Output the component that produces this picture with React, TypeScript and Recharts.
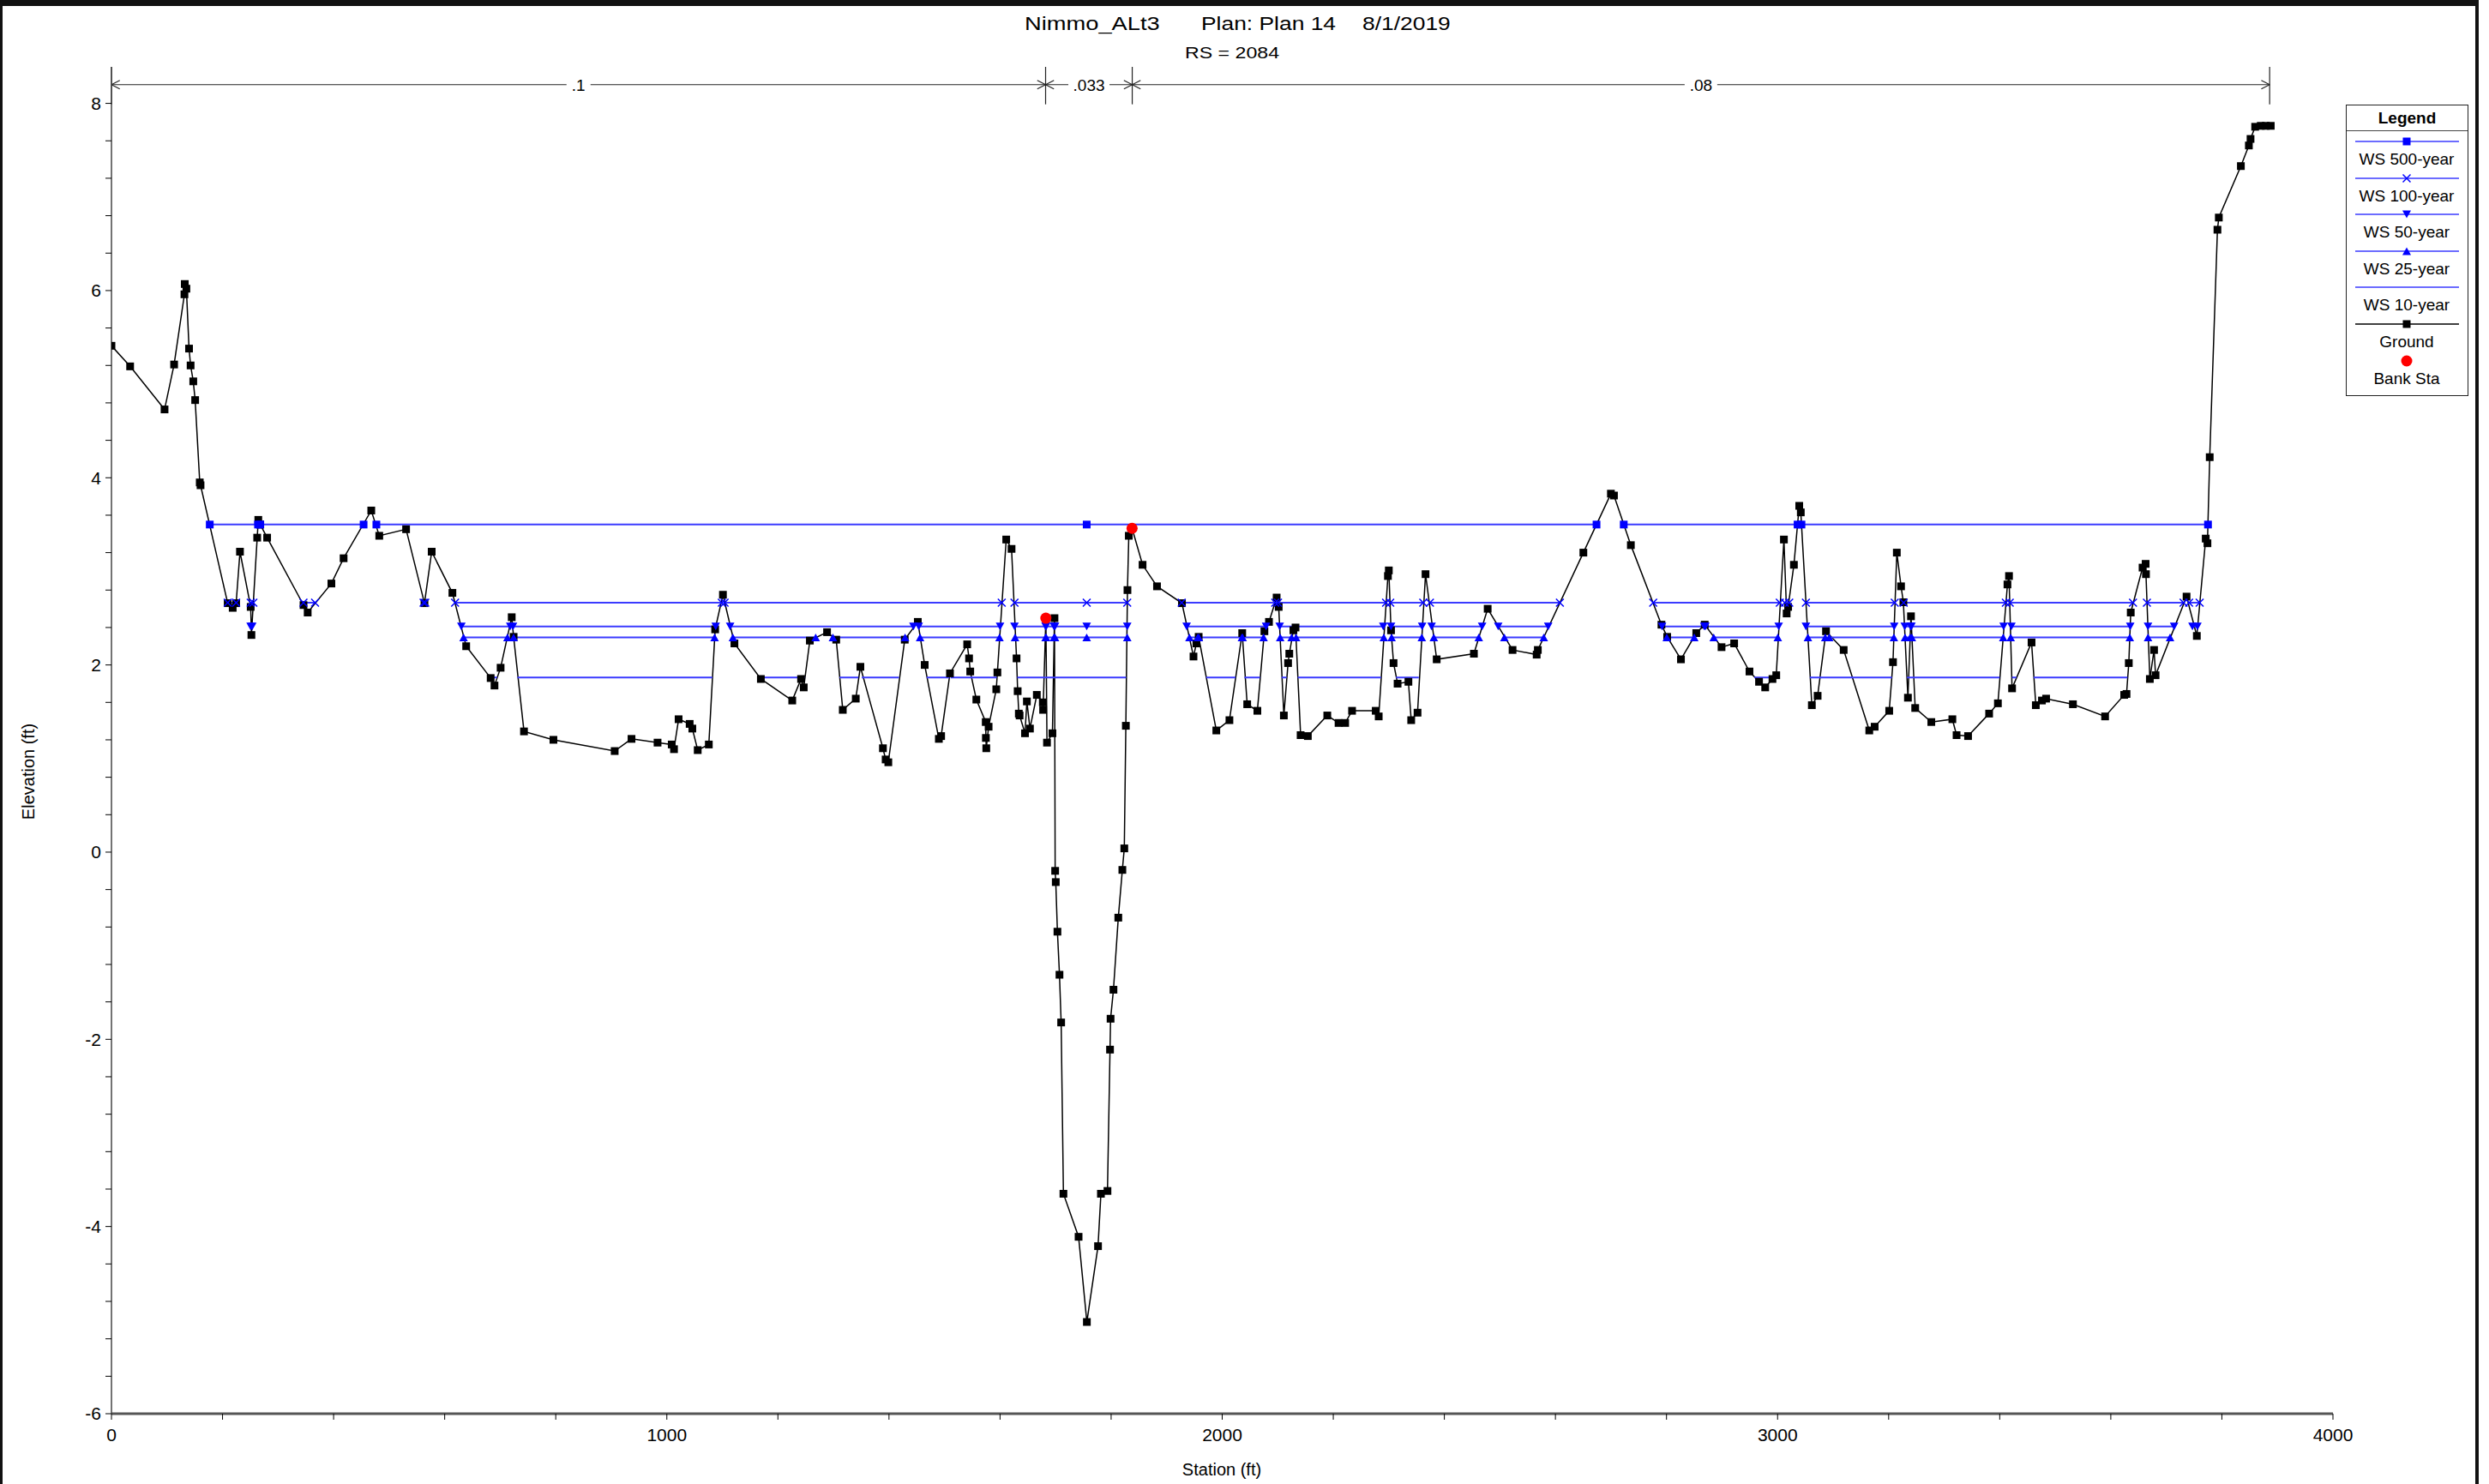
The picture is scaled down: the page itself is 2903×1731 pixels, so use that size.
import React from 'react';
import { ComposedChart, Line, XAxis, YAxis, ReferenceLine } from 'recharts';

// ground profile: [station (ft), elevation (ft)]
const groundPoints: [number, number][] = [
  [0, 5.41], [33.6, 5.19], [95.6, 4.73], [112.8, 5.21], [131.4, 5.96], [132, 6.07], [134.9, 6.02],
  [139.7, 5.38], [142.5, 5.2], [147.3, 5.03], [150.7, 4.83], [159, 3.95], [160.4, 3.92], [209.3, 2.66],
  [218.3, 2.61], [224.5, 2.66], [231.4, 3.21], [250.7, 2.62], [252, 2.32], [262.4, 3.36], [264.4, 3.55],
  [267.9, 3.5], [280.3, 3.36], [345.8, 2.64], [353.3, 2.56], [396, 2.87], [418, 3.14], [467.8, 3.65],
  [482.2, 3.38], [530.5, 3.45], [563.6, 2.66], [576.6, 3.21], [613.9, 2.77], [638.7, 2.2], [682.8, 1.86],
  [689.7, 1.78], [700.7, 1.97], [720.7, 2.51], [724.1, 2.3], [742.8, 1.29], [795.8, 1.2], [906.1, 1.08],
  [936.4, 1.21], [983.3, 1.17], [1008.8, 1.15], [1012.9, 1.1], [1021.2, 1.42], [1041.1, 1.37],
  [1045.9, 1.32], [1055.6, 1.09], [1075.6, 1.15], [1087, 2.38], [1101, 2.75], [1121.7, 2.23],
  [1169.3, 1.85], [1225.8, 1.62], [1241.7, 1.85], [1246.5, 1.76], [1257.5, 2.26], [1288.5, 2.35],
  [1305, 2.27], [1316.8, 1.52], [1340.2, 1.64], [1348.5, 1.98], [1389.1, 1.11], [1394, 0.99],
  [1398.8, 0.96], [1428.4, 2.27], [1451.9, 2.46], [1464.3, 2.0], [1489.8, 1.21], [1493.9, 1.24],
  [1509.8, 1.91], [1540.8, 2.22], [1544.2, 2.07], [1546.3, 1.93], [1557.3, 1.63], [1574.2, 1.39],
  [1574.5, 1.22], [1575.2, 1.11], [1579.4, 1.34], [1593.2, 1.74], [1595.2, 1.92], [1611.1, 3.34],
  [1620.7, 3.24], [1629.7, 2.07], [1631.7, 1.72], [1633.8, 1.48], [1635.2, 1.46], [1644.9, 1.27],
  [1648.3, 1.61], [1653.8, 1.32], [1666.2, 1.68], [1677, 1.6], [1677.5, 1.52], [1682.5, 2.5],
  [1684.5, 1.17], [1694.3, 1.27], [1698, 2.5], [1699.2, -0.2], [1700.3, -0.32], [1703.3, -0.85],
  [1707, -1.31], [1710, -1.82], [1714.1, -3.65], [1741.4, -4.11], [1756.3, -5.02], [1776.4, -4.21],
  [1781.6, -3.65], [1793.4, -3.62], [1798, -2.11], [1799, -1.78], [1804.2, -1.47], [1812.9, -0.7],
  [1820.2, -0.19], [1823.7, 0.04], [1826.5, 1.35], [1829.4, 2.8], [1831.8, 3.38], [1837.7, 3.46],
  [1856.6, 3.07], [1882.6, 2.84], [1927.5, 2.66], [1948.3, 2.09], [1953.5, 2.23], [1957.6, 2.3],
  [1989.4, 1.3], [2013, 1.41], [2036, 2.34], [2045, 1.58], [2063.3, 1.51], [2076, 2.36], [2084.2, 2.46],
  [2098, 2.72], [2101.7, 2.62], [2111, 1.46], [2118.6, 2.02], [2120.8, 2.12], [2128.2, 2.37], [2132, 2.4],
  [2141.2, 1.25], [2154.2, 1.24], [2189.2, 1.46], [2209.5, 1.38], [2221.4, 1.38], [2233.8, 1.51],
  [2276.4, 1.51], [2281.8, 1.45], [2298.4, 2.95], [2300, 3.01], [2304, 2.37], [2308.5, 2.02],
  [2315.8, 1.8], [2335.3, 1.82], [2340.3, 1.41], [2351.7, 1.49], [2366.1, 2.97], [2386.2, 2.06],
  [2453.2, 2.12], [2478, 2.6], [2522.8, 2.16], [2566.2, 2.11], [2568.3, 2.16], [2650.3, 3.2],
  [2699.9, 3.83], [2705.4, 3.81], [2735.8, 3.28], [2790.9, 2.43], [2801.2, 2.3], [2826, 2.06],
  [2853.6, 2.34], [2868.8, 2.43], [2899.1, 2.19], [2921.8, 2.23], [2949.4, 1.93], [2966.6, 1.82],
  [2977.7, 1.76], [2990.8, 1.85], [2997.6, 1.89], [3011.4, 3.34], [3016.3, 2.55], [3019, 2.62],
  [3029.4, 3.07], [3039, 3.7], [3041.8, 3.63], [3061.7, 1.57], [3072.1, 1.67], [3087.2, 2.36],
  [3119, 2.16], [3165.1, 1.3], [3174.8, 1.34], [3201, 1.51], [3207.8, 2.03], [3214.7, 3.2],
  [3222.3, 2.84], [3226.5, 2.67], [3234.7, 1.65], [3240.2, 2.52], [3247.8, 1.54], [3276.8, 1.39],
  [3314.7, 1.42], [3322.3, 1.25], [3343, 1.24], [3380.9, 1.48], [3396.7, 1.59], [3413.9, 2.86],
  [3416.7, 2.95], [3422.2, 1.75], [3457.3, 2.24], [3465, 1.57], [3476, 1.62], [3483.5, 1.64],
  [3531.8, 1.58], [3589.7, 1.45], [3624.1, 1.68], [3628.3, 1.69], [3632.4, 2.02], [3635.9, 2.56],
  [3657.2, 3.04], [3662.7, 3.08], [3663.3, 2.97], [3670.3, 1.85], [3677.9, 2.16], [3680.6, 1.89],
  [3736.4, 2.73], [3754.9, 2.31], [3770.9, 3.35], [3774, 3.3], [3778.1, 4.22], [3792, 6.65],
  [3794.5, 6.78], [3834.2, 7.33], [3848.6, 7.55], [3851.6, 7.62], [3859.9, 7.75], [3870, 7.76],
  [3879, 7.76], [3888, 7.76],
];

const bankStations: [number, number][] = [
  [1682.5, 2.5],
  [1837.7, 3.46],
];

// water surfaces: elevation + wet stretches (stations)
const ws500Elev = 3.5;
const ws500Segments = [[177, 263.9], [267.9, 454], [477, 1756, 2674], [2723, 3036], [3043, 3775]];

const ws100Elev = 2.665;
const ws100Segments = [
  [209.3, 224.5], [250.7, 255.5], [345.8, 366.6], [562, 565], [618.7, 1099], [1104, 1603],
  [1626, 1756, 1829], [1927, 2095.5], [2100.5, 2295], [2302.5, 2362], [2374, 2608], [2776, 3004],
  [3013, 3021], [3051, 3211], [3227, 3411], [3418, 3640], [3665, 3731], [3741, 3760],
];

const ws50Elev = 2.41;
const ws50Segments = [
  [250.5, 253.5], [630, 718], [723, 1088], [1114, 1444], [1453.6, 1600], [1626, 1682], [1683, 1697],
  [1699, 1756, 1829], [1936, 2079], [2103.5, 2290], [2304, 2360], [2377, 2468], [2497, 2587],
  [2792, 2868], [2870, 3002], [3051, 3210], [3229, 3239.5], [3241, 3407], [3421, 3635], [3667, 3714],
  [3747, 3756],
];

const ws25Elev = 2.295;
const ws25Segments = [
  [634, 713], [724.1, 1086], [1119, 1268], [1299, 1429], [1456, 1599], [1627, 1682], [1683, 1697],
  [1699, 1756, 1829], [1941, 1956], [1958, 2035.4], [2036.8, 2074.5], [2104.4, 2125], [2133, 2291],
  [2305, 2359.4], [2381, 2462], [2508, 2579], [2800.5, 2850], [2885, 3000.4], [3054.6, 3085.8],
  [3093, 3209.4], [3229.5, 3238.6], [3241.8, 3406.3], [3419.7, 3634.2], [3667, 3706.7],
];

const ws10Elev = 1.865;
const ws10Segments = [
  [683, 694], [731, 1082], [1165, 1249], [1311, 1345], [1351, 1418], [1468, 1509], [1511, 1594],
  [1631, 1827], [1971, 2024], [2040, 2068], [2107, 2116], [2136, 2286], [2313, 2354], [2958, 2993],
  [3058, 3206], [3233, 3400], [3422, 3430], [3461, 3630],
];

// Manning's n bar
const nBreaks = [0, 1682, 1838, 3886];
const nValues = ['.1', '.033', '.08'];
const nBarElev = 8.2;

const stationTicks = [0, 200, 400, 600, 800, 1000, 1200, 1400, 1600, 1800, 2000, 2200, 2400, 2600, 2800, 3000, 3200, 3400, 3600, 3800, 4000];
const elevTicks = Array.from({ length: 36 }, (_, i) => Math.round((-6 + i * 0.4) * 10) / 10);

const FONT = '"Liberation Sans", Arial, Helvetica, sans-serif';
const BLUE = '#0000ff';
const WS_LINE = '#3b3bff';

type Shape = 'square' | 'cross' | 'down' | 'up' | 'circle' | 'none';

function drawShape(shape: Shape, cx: number, cy: number, color: string, key?: string) {
  switch (shape) {
    case 'square':
      return <rect key={key} x={cx - 4.5} y={cy - 4.5} width={9} height={9} fill={color} />;
    case 'cross':
      return (
        <g key={key} stroke={color} strokeWidth={1.5}>
          <line x1={cx - 4.5} y1={cy - 4.5} x2={cx + 4.5} y2={cy + 4.5} />
          <line x1={cx - 4.5} y1={cy + 4.5} x2={cx + 4.5} y2={cy - 4.5} />
        </g>
      );
    case 'down':
      return <polygon key={key} points={`${cx - 5},${cy - 4.5} ${cx + 5},${cy - 4.5} ${cx},${cy + 4.5}`} fill={color} />;
    case 'up':
      return <polygon key={key} points={`${cx - 5},${cy + 4.5} ${cx + 5},${cy + 4.5} ${cx},${cy - 4.5}`} fill={color} />;
    case 'circle':
      return <circle key={key} cx={cx} cy={cy} r={6.5} fill={color} />;
    default:
      return <g key={key} />;
  }
}

const makeDot = (shape: Shape, color: string) => (p: any) => {
  const { cx, cy, index, payload } = p;
  const k = `dot-${shape}-${index}`;
  if (!payload || payload.y == null || cx == null || cy == null) return <g key={k} />;
  return drawShape(shape, cx, cy, color, k);
};

const nLabelDot = (p: any) => {
  const { cx, cy, index, payload } = p;
  const k = `nl-${index}`;
  if (!payload || cx == null || cy == null) return <g key={k} />;
  const w = payload.label.length * 10 + 8;
  return (
    <g key={k}>
      <rect x={cx - w / 2} y={cy - 11} width={w} height={22} fill="#fff" />
      <text x={cx} y={cy + 7} textAnchor="middle" fontSize={19} fontFamily={FONT} fill="#000">
        {payload.label}
      </text>
    </g>
  );
};

function toSeries(segs: number[][], elev: number) {
  const out: { x: number; y: number | null }[] = [];
  segs.forEach((seg, i) => {
    if (i > 0) {
      const prev = segs[i - 1];
      out.push({ x: (prev[prev.length - 1] + seg[0]) / 2, y: null });
    }
    seg.forEach((s) => out.push({ x: s, y: elev }));
  });
  return out;
}

const groundData = groundPoints.map(([x, y]) => ({ x, y }));
const bankData = bankStations.map(([x, y]) => ({ x, y }));
const nLabelData = nValues.map((label, i) => ({ x: (nBreaks[i] + nBreaks[i + 1]) / 2, y: nBarElev, label }));

const legendItems: { name: string; line: string | null; shape: Shape; color: string }[] = [
  { name: 'WS 500-year', line: WS_LINE, shape: 'square', color: BLUE },
  { name: 'WS 100-year', line: WS_LINE, shape: 'cross', color: BLUE },
  { name: 'WS 50-year', line: WS_LINE, shape: 'down', color: BLUE },
  { name: 'WS 25-year', line: WS_LINE, shape: 'up', color: BLUE },
  { name: 'WS 10-year', line: WS_LINE, shape: 'none', color: BLUE },
  { name: 'Ground', line: '#000', shape: 'square', color: '#000' },
  { name: 'Bank Sta', line: null, shape: 'circle', color: '#ff0000' },
];

const Legend = () => (
  <div
    style={{
      position: 'absolute', left: 2736, top: 122, width: 143, height: 340, border: '1.5px solid #222',
      boxSizing: 'border-box', background: '#fff', fontFamily: FONT, color: '#000',
    }}
  >
    <div style={{ height: 29, borderBottom: '1px solid #444', textAlign: 'center', fontWeight: 'bold', fontSize: 19, lineHeight: '29px' }}>
      Legend
    </div>
    {legendItems.map((it, i) => (
      <React.Fragment key={it.name}>
        <svg style={{ position: 'absolute', left: 8, top: 34 + i * 42.6 }} width={125} height={16}>
          {it.line && <line x1={2} y1={8} x2={123} y2={8} stroke={it.line} strokeWidth={1.5} />}
          {drawShape(it.shape, 62, 8, it.color)}
        </svg>
        <div style={{ position: 'absolute', left: 0, width: 140, top: 51 + i * 42.6, textAlign: 'center', fontSize: 19, lineHeight: '24px' }}>
          {it.name}
        </div>
      </React.Fragment>
    ))}
  </div>
);

const AX = 15;
const AY = 0.046;

export default function App() {
  const nLines: { a: { x: number; y: number }; b: { x: number; y: number } }[] = [];
  nLines.push({ a: { x: nBreaks[0], y: nBarElev }, b: { x: nBreaks[nBreaks.length - 1], y: nBarElev } });
  nBreaks.forEach((b, i) => {
    nLines.push({ a: { x: b, y: 7.99 }, b: { x: b, y: 8.39 } });
    if (i > 0) {
      nLines.push({ a: { x: b - AX, y: nBarElev + AY }, b: { x: b, y: nBarElev } });
      nLines.push({ a: { x: b - AX, y: nBarElev - AY }, b: { x: b, y: nBarElev } });
    }
    if (i < nBreaks.length - 1) {
      nLines.push({ a: { x: b + AX, y: nBarElev + AY }, b: { x: b, y: nBarElev } });
      nLines.push({ a: { x: b + AX, y: nBarElev - AY }, b: { x: b, y: nBarElev } });
    }
  });

  return (
    <div style={{ position: 'absolute', left: 0, top: 0, width: 2903, height: 1731, background: '#fff', overflow: 'hidden', fontFamily: FONT }}>
      <div style={{ position: 'absolute', left: 0, top: 0, width: 2891, height: 1740, borderTop: '7px solid #111', borderLeft: '3px solid #111', borderRight: '4px solid #111', boxSizing: 'border-box' }} />

      <div style={{ position: 'absolute', top: 17, left: 0, width: 2903, height: 24, fontSize: 22, lineHeight: '22px', whiteSpace: 'pre' }}>
        <span style={{ position: 'absolute', left: 1195, transform: 'scaleX(1.24)', transformOrigin: 'left' }}>Nimmo_ALt3</span>
        <span style={{ position: 'absolute', left: 1401, transform: 'scaleX(1.2)', transformOrigin: 'left' }}>Plan: Plan 14</span>
        <span style={{ position: 'absolute', left: 1589, transform: 'scaleX(1.2)', transformOrigin: 'left' }}>8/1/2019</span>
      </div>
      <div style={{ position: 'absolute', top: 52, left: 1337, width: 200, textAlign: 'center', fontSize: 19, lineHeight: '19px', transform: 'scaleX(1.22)' }}>RS = 2084</div>

      <div style={{ position: 'absolute', left: 0, top: 0 }}>
        <ComposedChart width={2903} height={1731} margin={{ top: 78, right: 182, bottom: 42, left: 70 }}>
          <XAxis
            type="number"
            dataKey="x"
            domain={[0, 4000]}
            allowDataOverflow
            ticks={stationTicks}
            tickFormatter={(v: number) => (v % 1000 === 0 ? String(v) : '')}
            height={40}
            tickSize={7}
            tickMargin={10}
            tick={{ fontSize: 21, fill: '#000', fontFamily: FONT }}
            axisLine={{ stroke: '#555', strokeWidth: 3 }}
            tickLine={{ stroke: '#000' }}
            interval={0}
          />
          <YAxis
            type="number"
            dataKey="y"
            domain={[-6, 8.39]}
            allowDataOverflow
            ticks={elevTicks}
            tickFormatter={(v: number) => (Math.abs(v % 2) < 1e-6 ? String(v) : '')}
            width={60}
            tickSize={7}
            tickMargin={5}
            tick={{ fontSize: 21, fill: '#000', fontFamily: FONT }}
            axisLine={{ stroke: '#444', strokeWidth: 1.5 }}
            tickLine={{ stroke: '#000' }}
            interval={0}
          />

          {nLines.map((s, i) => (
            <ReferenceLine key={`n-${i}`} segment={[s.a, s.b]} stroke="#222" strokeWidth={1.2} ifOverflow="visible" />
          ))}
          <Line data={nLabelData} dataKey="y" stroke="none" dot={nLabelDot} activeDot={false} isAnimationActive={false} />

          <Line data={groundData} dataKey="y" stroke="#000" strokeWidth={1.5} dot={makeDot('square', '#000')} activeDot={false} isAnimationActive={false} />

          <Line data={toSeries(ws10Segments, ws10Elev)} dataKey="y" stroke={WS_LINE} strokeWidth={2} dot={false} activeDot={false} isAnimationActive={false} />
          <Line data={toSeries(ws25Segments, ws25Elev)} dataKey="y" stroke={WS_LINE} strokeWidth={2} dot={makeDot('up', BLUE)} activeDot={false} isAnimationActive={false} />
          <Line data={toSeries(ws50Segments, ws50Elev)} dataKey="y" stroke={WS_LINE} strokeWidth={2} dot={makeDot('down', BLUE)} activeDot={false} isAnimationActive={false} />
          <Line data={toSeries(ws100Segments, ws100Elev)} dataKey="y" stroke={WS_LINE} strokeWidth={2} dot={makeDot('cross', BLUE)} activeDot={false} isAnimationActive={false} />
          <Line data={toSeries(ws500Segments, ws500Elev)} dataKey="y" stroke={WS_LINE} strokeWidth={2} dot={makeDot('square', BLUE)} activeDot={false} isAnimationActive={false} />

          <Line data={bankData} dataKey="y" stroke="none" dot={makeDot('circle', '#ff0000')} activeDot={false} isAnimationActive={false} />
        </ComposedChart>
      </div>

      <div style={{ position: 'absolute', left: 33, top: 900, transform: 'translate(-50%, -50%) rotate(-90deg)', fontSize: 20, whiteSpace: 'nowrap' }}>
        Elevation (ft)
      </div>
      <div style={{ position: 'absolute', left: 1425, top: 1714, transform: 'translate(-50%, -50%)', fontSize: 20, whiteSpace: 'nowrap' }}>
        Station (ft)
      </div>

      <Legend />
    </div>
  );
}
